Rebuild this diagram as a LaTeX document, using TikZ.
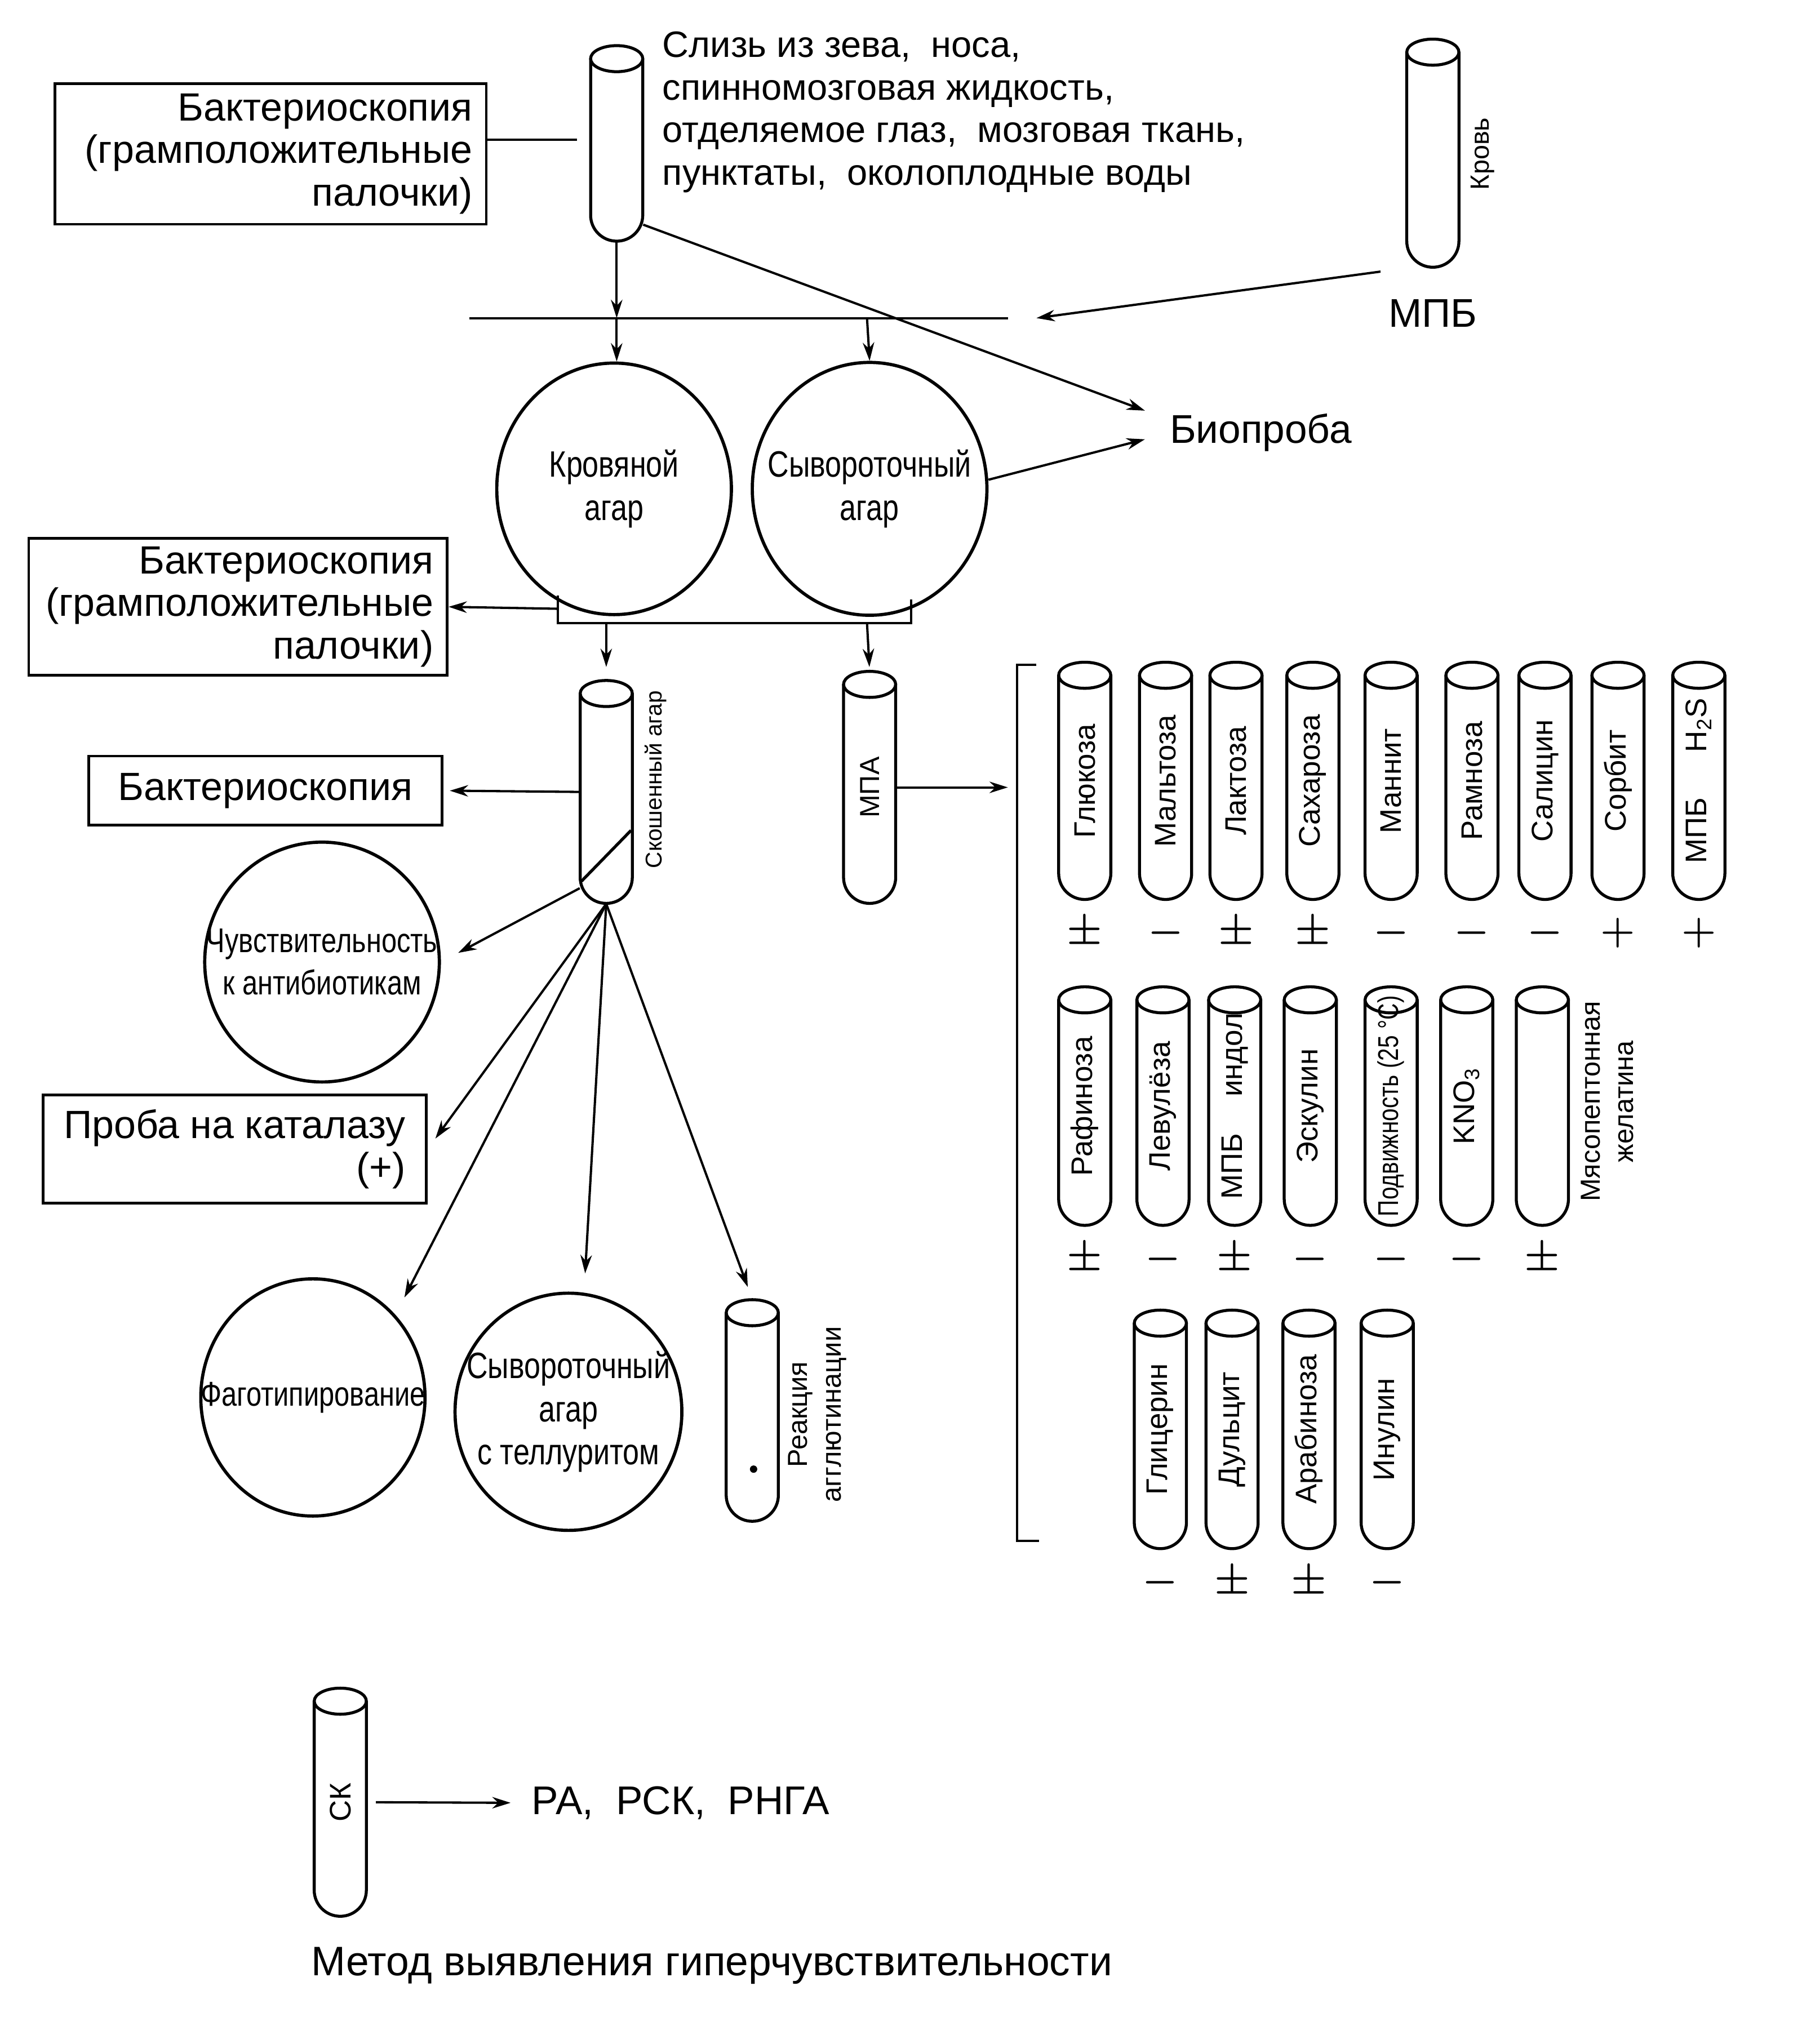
\documentclass[tikz,border=0pt]{standalone}
\usepackage{fontspec}
\setmainfont{Liberation Sans}
\newfontfamily\narrowfont{Liberation Sans}[FakeStretch=0.8]
\usetikzlibrary{arrows.meta,positioning,shapes.geometric}

% test tube: name, x, top, bottom
\newcommand{\testtube}[4]{%
  \node[tubebody, minimum height={(#4-#3)*0.02cm}] (#1) at (#2,{(#3+#4)/2}) {};
  \draw[tubeline, rounded corners=0.4cm] ({#2-20},{#3+10}) -- ({#2-20},#4) -- ({#2+20},#4) -- ({#2+20},{#3+10});
  \draw[tubeline] (#2,{#3+10}) ellipse [x radius=0.4cm, y radius=0.2cm];
}

\begin{document}
\begin{tikzpicture}[x=0.02cm, y=-0.02cm,
    ln/.style={line width=1pt},
    arr/.style={-{Stealth[length=8pt,width=5pt]}, line width=1pt},
    box/.style={draw, rectangle, line width=1.2pt, inner sep=0pt, font=\fontsize{17.2}{18.5}\selectfont},
    dish/.style={draw, ellipse, line width=1.4pt, inner sep=0pt},
    dishtext/.style={align=center, font=\narrowfont\fontsize{16}{18.8}\selectfont},
    tubebody/.style={rectangle, inner sep=0pt, minimum width=0.8cm},
    tubeline/.style={line width=1.3pt},
    tubelabel/.style={rotate=90, font=\fontsize{13}{15}\selectfont},
    sign/.style={anchor=north, font=\boldmath\fontsize{18}{20}\selectfont, text height=1.5ex, text depth=0pt, inner sep=1pt},
    txt/.style={font=\fontsize{16}{18.6}\selectfont},
    bigtxt/.style={font=\fontsize{17.5}{20}\selectfont}
  ]
  \useasboundingbox (0,0) rectangle (1382,1568);

  % Material
  \testtube{sampletube}{473}{35}{185}
  \node[txt, align=left, anchor=west] (sampletext) at (502,86) {Слизь из зева,\ \ носа,\\спинномозговая жидкость,\\отделяемое глаз,\ \ мозговая ткань,\\пунктаты,\ \ околоплодные воды};
  \node[box, minimum width=6.62cm, minimum height=2.16cm, text width=6.2cm, align=right] (scopyA) at (207.5,118) {Бактериоскопия\\(грамположительные\\палочки)};
  \draw[ln, shorten >=0.2cm] ([yshift=0.22cm]scopyA.east) -- ([yshift=0.22cm]scopyA.east -| sampletube.west);

  % Blood
  \testtube{bloodtube}{1099}{30}{205}
  \node[tubelabel, font=\fontsize{11.5}{13}\selectfont] at (1137,118) {Кровь};
  \node[bigtxt, below=0.36cm of bloodtube] (mpbA) {МПБ};

  % Plating
  \coordinate (hlineL) at (360,244);
  \coordinate (hlineR) at (773,244);
  \coordinate (splitA) at (473,244);
  \coordinate (splitB) at (665,244);
  \draw[ln] (hlineL) -- (hlineR);
  \draw[arr] (sampletube) -- (splitA);
  \draw[arr] ([yshift=0.3cm]mpbA.north west) -- ([xshift=0.44cm]hlineR);

  \node[dish, minimum width=3.6cm, minimum height=3.86cm] (bloodagar) at (471,375) {};
  \node[dishtext] at (bloodagar) {Кровяной\\агар};
  \node[dish, minimum width=3.6cm, minimum height=3.88cm] (serumagar) at (667,375) {};
  \node[dishtext] at (serumagar) {Сывороточный\\агар};
  \draw[arr] (splitA) -- (splitA |- bloodagar.north);
  \draw[arr] (splitB) -- (serumagar.north);

  % Bioassay
  \node[bigtxt] (bio) at (967,332) {Биопроба};
  \draw[arr] ([yshift=0.26cm]sampletube.south east) -- ([xshift=-0.26cm,yshift=0.34cm]bio.west);
  \draw[arr] ([yshift=0.14cm]serumagar.east) -- ([xshift=-0.26cm,yshift=-0.1cm]bio.west);

  % Colonies
  \node[box, minimum width=6.42cm, minimum height=2.1cm, text width=6.0cm, align=right] (scopyB) at (182.5,465.5) {Бактериоскопия\\(грамположительные\\палочки)};
  \coordinate (forkL) at (428,457);
  \coordinate (forkBL) at (428,478);
  \coordinate (forkBR) at (699,478);
  \coordinate (forkR) at (699,460);
  \coordinate (forkM) at (428,467);
  \coordinate (forkA) at (465,478);
  \coordinate (forkB) at (665,478);
  \draw[ln] (forkL) -- (forkBL) -- (forkBR) -- (forkR);
  \draw[arr] (forkM) -- (scopyB.east);

  % Slant agar
  \testtube{slant}{465}{522}{693}
  \draw[tubeline] (484,637) -- (446,676);
  \node[tubelabel, font=\fontsize{10}{12}\selectfont] at (503,598) {Скошенный агар};
  \draw[arr, shorten >=0.2cm] (forkA) -- (slant.north);

  \testtube{mpa}{667}{515}{693}
  \node[tubelabel, font=\fontsize{12}{14}\selectfont] at (mpa) {МПА};
  \draw[arr, shorten >=0.06cm] (forkB) -- (mpa.north);

  \node[box, minimum width=5.42cm, minimum height=1.06cm] (scopyC) at (203.5,606.5) {Бактериоскопия};
  \draw[arr, shorten >=0.1cm] (slant.west) -- (scopyC.east);

  \node[dish, minimum width=3.6cm, minimum height=3.68cm] (sens) at (247,738) {};
  \node[dishtext, font=\narrowfont\fontsize{15}{18.5}\selectfont] at (sens) {Чувствительность\\к антибиотикам};
  \draw[arr, shorten >=0.3cm] ([yshift=0.24cm]slant.south west) -- (sens.east);

  \node[box, minimum width=5.88cm, minimum height=1.66cm, align=right] (catal) at (180,881.5) {Проба на каталазу\\(+)};
  \draw[arr, shorten >=0.2cm] (slant.south) -- (catal.east);

  \node[dish, minimum width=3.44cm, minimum height=3.64cm] (phage) at (240,1072) {};
  \node[dishtext, font=\narrowfont\fontsize{15}{18.5}\selectfont] at (phage) {Фаготипирование};
  \draw[arr, shorten >=0.3cm] (slant.south) -- (phage.45);

  \node[dish, minimum width=3.48cm, minimum height=3.64cm] (tellur) at (436,1083) {};
  \node[dishtext] at (tellur) {Сывороточный\\агар\\с теллуритом};
  \draw[arr, shorten >=0.28cm] (slant.south) -- ([xshift=0.24cm]tellur.north);

  \testtube{aggl}{577}{997}{1167}
  \fill (578,1127) circle (1.6pt);
  \node[tubelabel, align=center, font=\fontsize{12}{14.8}\selectfont] at (627,1085) {Реакция\\агглютинации};
  \draw[arr, shorten >=0.2cm] (slant.south) -- (aggl.north);

  % Biochemical series
  \coordinate (rackTop) at (780,510);
  \coordinate (rackBot) at (780,1182);
  \coordinate (rackIn) at (780,604);
  \draw[ln] ([xshift=0.3cm]rackTop) -- (rackTop) -- (rackBot) -- ([xshift=0.34cm]rackBot);
  \draw[arr, shorten >=0.14cm] (mpa.east) -- (rackIn);

  % row 1
  \testtube{glu}{832}{508}{690}
  \testtube{malt}{894}{508}{690}
  \testtube{lact}{948}{508}{690}
  \testtube{sacch}{1007}{508}{690}
  \testtube{mann}{1067}{508}{690}
  \testtube{rham}{1129}{508}{690}
  \testtube{salic}{1185}{508}{690}
  \testtube{sorb}{1241}{508}{690}
  \testtube{hs}{1303}{508}{690}
  \node[tubelabel] at (glu) {Глюкоза};
  \node[tubelabel] at (malt) {Мальтоза};
  \node[tubelabel] at (lact) {Лактоза};
  \node[tubelabel] at (sacch) {Сахароза};
  \node[tubelabel] at (mann) {Маннит};
  \node[tubelabel] at (rham) {Рамноза};
  \node[tubelabel] at (salic) {Салицин};
  \node[tubelabel] at (sorb) {Сорбит};
  \node[tubelabel] at (hs) {МПБ\hspace{20pt}H\textsubscript{2}S};
  \node[sign] at ([yshift=-0.34cm]glu.south) {$\pm$};
  \node[sign] at ([yshift=-0.34cm]malt.south) {$-$};
  \node[sign] at ([yshift=-0.34cm]lact.south) {$\pm$};
  \node[sign] at ([yshift=-0.34cm]sacch.south) {$\pm$};
  \node[sign] at ([yshift=-0.34cm]mann.south) {$-$};
  \node[sign] at ([yshift=-0.34cm]rham.south) {$-$};
  \node[sign] at ([yshift=-0.34cm]salic.south) {$-$};
  \node[sign] at ([yshift=-0.34cm]sorb.south) {$+$};
  \node[sign] at ([yshift=-0.34cm]hs.south) {$+$};

  % row 2
  \testtube{raff}{832}{757}{940}
  \testtube{levul}{892}{757}{940}
  \testtube{indol}{947}{757}{940}
  \testtube{escul}{1005}{757}{940}
  \testtube{motil}{1067}{757}{940}
  \testtube{nitr}{1125}{757}{940}
  \testtube{gelat}{1183}{757}{940}
  \node[tubelabel] at (raff) {Рафиноза};
  \node[tubelabel] at (levul) {Левулёза};
  \node[tubelabel] at (indol) {МПБ\hspace{16pt}индол};
  \node[tubelabel] at (escul) {Эскулин};
  \node[tubelabel, font=\narrowfont\fontsize{12.5}{15}\selectfont] at (motil) {Подвижность (25 °C)};
  \node[tubelabel] at (nitr) {KNO\textsubscript{3}};
  \node[tubelabel, align=center, font=\fontsize{12}{14.5}\selectfont] at (1233,845) {Мясопептонная\\желатина};
  \node[sign] at ([yshift=-0.34cm]raff.south) {$\pm$};
  \node[sign] at ([yshift=-0.34cm]levul.south) {$-$};
  \node[sign] at ([yshift=-0.34cm]indol.south) {$\pm$};
  \node[sign] at ([yshift=-0.34cm]escul.south) {$-$};
  \node[sign] at ([yshift=-0.34cm]motil.south) {$-$};
  \node[sign] at ([yshift=-0.34cm]nitr.south) {$-$};
  \node[sign] at ([yshift=-0.34cm]gelat.south) {$\pm$};

  % row 3
  \testtube{glyc}{890}{1005}{1188}
  \testtube{dulc}{945}{1005}{1188}
  \testtube{arab}{1004}{1005}{1188}
  \testtube{inul}{1064}{1005}{1188}
  \node[tubelabel] at (glyc) {Глицерин};
  \node[tubelabel] at (dulc) {Дульцит};
  \node[tubelabel] at (arab) {Арабиноза};
  \node[tubelabel] at (inul) {Инулин};
  \node[sign] at ([yshift=-0.34cm]glyc.south) {$-$};
  \node[sign] at ([yshift=-0.34cm]dulc.south) {$\pm$};
  \node[sign] at ([yshift=-0.34cm]arab.south) {$\pm$};
  \node[sign] at ([yshift=-0.34cm]inul.south) {$-$};

  % Serology
  \testtube{sk}{261}{1295}{1470}
  \node[tubelabel] at (sk) {СК};
  \node[bigtxt] (ra) at (522,1383) {РА,\ \ РСК,\ \ РНГА};
  \draw[arr, shorten <=0.14cm, shorten >=0.2cm] (sk.east) -- (ra.west);
  \node[bigtxt, font=\fontsize{18}{20}\selectfont] (method) at (546,1508) {Метод выявления гиперчувствительности};
\end{tikzpicture}
\end{document}
